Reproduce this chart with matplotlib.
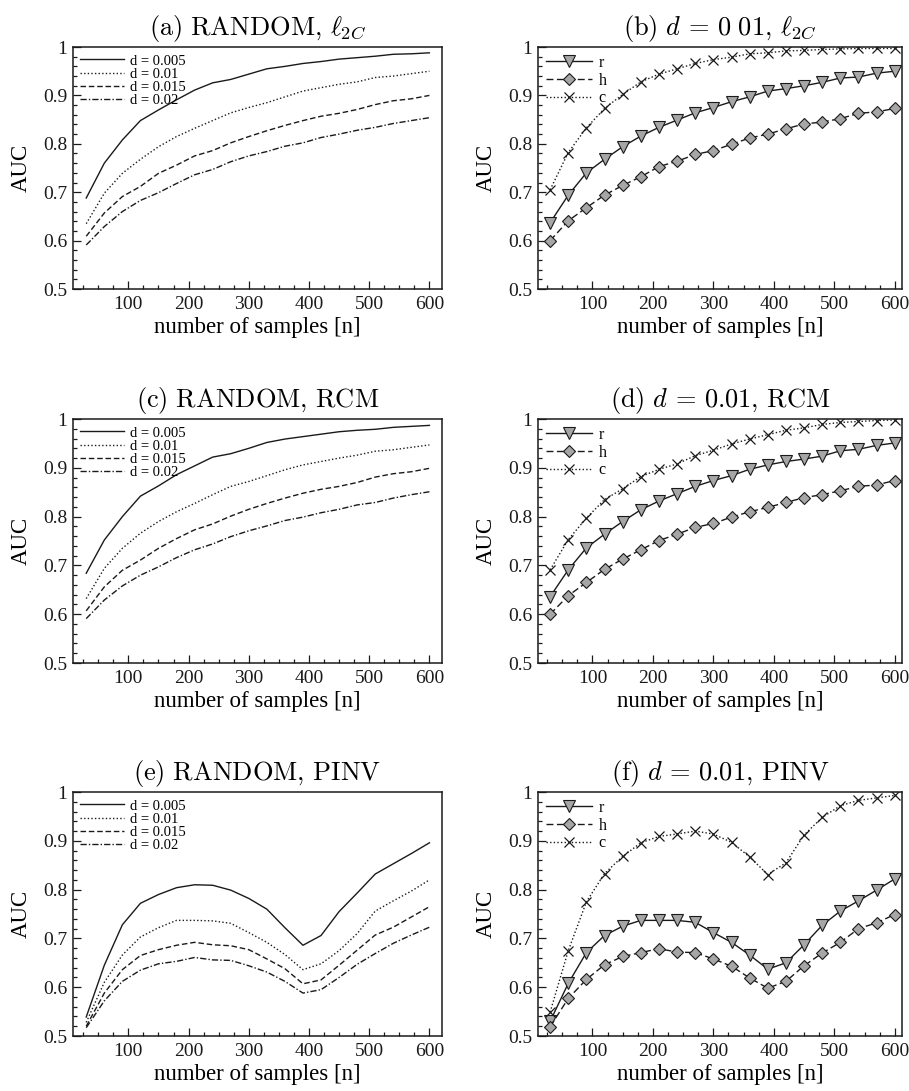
import numpy as np
import matplotlib
matplotlib.use("Agg")
import matplotlib.pyplot as plt
from matplotlib.ticker import MultipleLocator, FormatStrFormatter

# AUC vs. number of samples, six panels

plt.rcParams["font.family"] = ["Liberation Serif", "DejaVu Serif"]
plt.rcParams["mathtext.fontset"] = "cm"

n_samples = [30, 60, 90, 120, 150, 180, 210, 240, 270, 300,
             330, 360, 390, 420, 450, 480, 510, 540, 570, 600]

d_labels = ["d = 0.005", "d = 0.01", "d = 0.015", "d = 0.02"]
method_labels = ["r", "h", "c"]

# (a) RANDOM, l2C
a_d005 = [0.688, 0.760, 0.808, 0.848, 0.870, 0.891, 0.911, 0.926, 0.933, 0.944,
          0.955, 0.960, 0.966, 0.970, 0.975, 0.978, 0.981, 0.985, 0.986, 0.988]
a_d010 = [0.635, 0.698, 0.739, 0.768, 0.794, 0.815, 0.832, 0.848, 0.864, 0.875,
          0.885, 0.897, 0.909, 0.916, 0.923, 0.928, 0.937, 0.940, 0.945, 0.950]
a_d015 = [0.609, 0.657, 0.691, 0.712, 0.739, 0.756, 0.775, 0.786, 0.802, 0.815,
          0.827, 0.838, 0.848, 0.857, 0.863, 0.871, 0.881, 0.889, 0.893, 0.900]
a_d020 = [0.591, 0.629, 0.660, 0.683, 0.699, 0.718, 0.736, 0.747, 0.763, 0.775,
          0.784, 0.795, 0.802, 0.813, 0.820, 0.828, 0.834, 0.842, 0.848, 0.854]

# (c) RANDOM, RCM
c_d005 = [0.684, 0.752, 0.800, 0.842, 0.863, 0.886, 0.904, 0.922, 0.929, 0.940,
          0.952, 0.959, 0.964, 0.969, 0.974, 0.977, 0.979, 0.983, 0.985, 0.987]
c_d010 = [0.632, 0.694, 0.735, 0.766, 0.790, 0.810, 0.827, 0.845, 0.862, 0.872,
          0.884, 0.896, 0.906, 0.913, 0.920, 0.926, 0.934, 0.937, 0.942, 0.947]
c_d015 = [0.607, 0.656, 0.690, 0.711, 0.735, 0.755, 0.773, 0.785, 0.801, 0.815,
          0.827, 0.838, 0.848, 0.856, 0.862, 0.870, 0.881, 0.888, 0.892, 0.899]
c_d020 = [0.591, 0.629, 0.658, 0.680, 0.697, 0.716, 0.732, 0.744, 0.759, 0.771,
          0.781, 0.792, 0.799, 0.808, 0.815, 0.824, 0.829, 0.838, 0.845, 0.851]

# (e) RANDOM, PINV
e_d005 = [0.539, 0.645, 0.728, 0.772, 0.790, 0.804, 0.810, 0.809, 0.799, 0.782,
          0.760, 0.722, 0.686, 0.706, 0.755, 0.793, 0.832, 0.853, 0.874, 0.896]
e_d010 = [0.528, 0.610, 0.666, 0.703, 0.722, 0.737, 0.737, 0.736, 0.731, 0.712,
          0.692, 0.667, 0.636, 0.648, 0.675, 0.710, 0.756, 0.777, 0.797, 0.820]
e_d015 = [0.520, 0.588, 0.636, 0.665, 0.677, 0.686, 0.692, 0.687, 0.685, 0.677,
          0.658, 0.638, 0.607, 0.615, 0.645, 0.676, 0.707, 0.723, 0.744, 0.765]
e_d020 = [0.517, 0.572, 0.612, 0.635, 0.648, 0.653, 0.661, 0.656, 0.655, 0.644,
          0.631, 0.612, 0.588, 0.595, 0.620, 0.647, 0.669, 0.690, 0.707, 0.723]

# (b) d = 0.01, l2C
b_r = [0.637, 0.694, 0.740, 0.768, 0.794, 0.816, 0.834, 0.849, 0.864, 0.875,
       0.887, 0.897, 0.909, 0.914, 0.920, 0.927, 0.936, 0.938, 0.946, 0.950]
b_h = [0.600, 0.641, 0.668, 0.694, 0.714, 0.732, 0.753, 0.764, 0.778, 0.786,
       0.799, 0.812, 0.820, 0.831, 0.841, 0.845, 0.852, 0.863, 0.866, 0.873]
b_c = [0.705, 0.782, 0.833, 0.873, 0.902, 0.928, 0.944, 0.955, 0.966, 0.974,
       0.979, 0.986, 0.988, 0.992, 0.993, 0.995, 0.996, 0.997, 0.997, 0.997]

# (d) d = 0.01, RCM
d_r = [0.636, 0.691, 0.736, 0.764, 0.790, 0.814, 0.832, 0.847, 0.862, 0.874,
       0.884, 0.897, 0.906, 0.913, 0.918, 0.924, 0.935, 0.938, 0.946, 0.951]
d_h = [0.600, 0.638, 0.665, 0.692, 0.713, 0.732, 0.751, 0.764, 0.778, 0.786,
       0.799, 0.810, 0.819, 0.829, 0.839, 0.845, 0.853, 0.862, 0.865, 0.874]
d_c = [0.691, 0.753, 0.797, 0.835, 0.857, 0.882, 0.897, 0.908, 0.925, 0.936,
       0.949, 0.959, 0.968, 0.977, 0.982, 0.989, 0.993, 0.995, 0.997, 0.998]

# (f) d = 0.01, PINV
f_r = [0.530, 0.608, 0.671, 0.706, 0.725, 0.737, 0.737, 0.737, 0.733, 0.712,
       0.692, 0.666, 0.637, 0.650, 0.687, 0.727, 0.756, 0.777, 0.799, 0.822]
f_h = [0.519, 0.577, 0.616, 0.646, 0.663, 0.671, 0.679, 0.672, 0.671, 0.658,
       0.643, 0.619, 0.598, 0.612, 0.644, 0.670, 0.692, 0.720, 0.732, 0.749]
f_c = [0.549, 0.675, 0.775, 0.833, 0.868, 0.896, 0.909, 0.914, 0.920, 0.914,
       0.897, 0.867, 0.831, 0.855, 0.912, 0.948, 0.972, 0.983, 0.988, 0.993]

titles = [
    r"$\mathrm{(a)\ RANDOM,}\,\ell_{2C}$",
    r"$\mathrm{(b)}\ d\,=\,0\ 01,\,\ell_{2C}$",
    r"$\mathrm{(c)\ RANDOM,\,RCM}$",
    r"$\mathrm{(d)}\ d\,=\,0.01,\,\mathrm{RCM}$",
    r"$\mathrm{(e)\ RANDOM,\,PINV}$",
    r"$\mathrm{(f)}\ d\,=\,0.01,\,\mathrm{PINV}$",
]

INK = "#1a1a1a"
GRAY = "#a6a6a6"

d_styles = ["-", (0, (1, 1.6)), (0, (4, 2)), (0, (4.5, 1.5, 1, 1.5))]


def style_axes(ax, xlim):
    ax.set_xlim(*xlim)
    ax.set_ylim(0.5, 1.0)
    ax.xaxis.set_major_locator(MultipleLocator(100))
    ax.xaxis.set_minor_locator(MultipleLocator(25))
    ax.yaxis.set_major_locator(MultipleLocator(0.1))
    ax.yaxis.set_minor_locator(MultipleLocator(0.02))
    ax.yaxis.set_major_formatter(FormatStrFormatter("%g"))
    ax.tick_params(which="both", direction="in", top=False, right=False,
                   colors=INK, labelsize=14, width=0.9)
    ax.tick_params(which="major", length=6, pad=5)
    ax.tick_params(which="minor", length=3)
    ax.tick_params(axis="y", pad=4)
    for sp in ax.spines.values():
        sp.set_linewidth(1.1)
        sp.set_color(INK)
    ax.set_xlabel("number of samples [n]", fontsize=16.5, labelpad=3)
    ax.set_ylabel("AUC", fontsize=16.5, labelpad=8)


def plot_d_panel(ax, series, title):
    for ys, ls, lab in zip(series, d_styles, d_labels):
        ax.plot(n_samples, ys, linestyle=ls, color=INK, lw=1.0, label=lab)
    style_axes(ax, (8, 621))
    ax.set_title(title, fontsize=19, pad=9)
    ax.legend(loc="upper left", frameon=False, fontsize=10.5, handlelength=3.0,
              handletextpad=0.4, labelspacing=0.0, borderaxespad=0.3,
              borderpad=0.2)


def plot_m_panel(ax, r, h, c, title):
    ax.plot(n_samples, r, "-", color=INK, lw=1.0, marker="v", ms=8,
            mfc=GRAY, mec=INK, mew=0.8, label=method_labels[0])
    ax.plot(n_samples, h, linestyle=(0, (5, 2.5)), color=INK, lw=1.0,
            marker="D", ms=6.2, mfc=GRAY, mec=INK, mew=0.8,
            label=method_labels[1])
    ax.plot(n_samples, c, linestyle=(0, (1, 1.6)), color=INK, lw=1.0,
            marker="x", ms=7.5, mec=INK, mew=0.9, label=method_labels[2])
    style_axes(ax, (10, 612))
    ax.set_title(title, fontsize=19, pad=9)
    ax.legend(loc="upper left", frameon=False, fontsize=11.5, handlelength=2.9,
              handletextpad=0.4, labelspacing=0.1, borderaxespad=0.3,
              borderpad=0.2)


fig = plt.figure(figsize=(9.09, 10.91), dpi=100)

left_x, left_w = 0.0803, 0.406
right_x, right_w = 0.5919, 0.4004
rows = [(0.7351, 0.2218), (0.3923, 0.2236), (0.0504, 0.2236)]

d_sets = [(a_d005, a_d010, a_d015, a_d020),
          (c_d005, c_d010, c_d015, c_d020),
          (e_d005, e_d010, e_d015, e_d020)]
m_sets = [(b_r, b_h, b_c), (d_r, d_h, d_c), (f_r, f_h, f_c)]

for i, (bot, h) in enumerate(rows):
    ax_l = fig.add_axes([left_x, bot, left_w, h])
    plot_d_panel(ax_l, d_sets[i], titles[2 * i])
    ax_r = fig.add_axes([right_x, bot, right_w, h])
    r, hh, c = m_sets[i]
    plot_m_panel(ax_r, r, hh, c, titles[2 * i + 1])

fig.savefig("out.png", dpi=100)
